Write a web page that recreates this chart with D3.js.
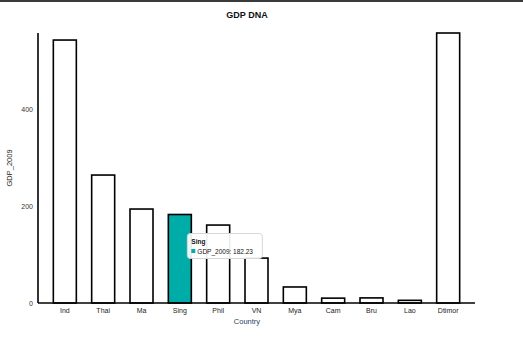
<!DOCTYPE html>
<html>
<head>
<meta charset="utf-8">
<script src="https://cdn.jsdelivr.net/npm/d3@7"></script>
<style>
  html, body { margin: 0; padding: 0; background: #fff; }
  body { width: 523px; height: 349px; overflow: hidden; }
  svg { display: block; font-family: "Liberation Sans", "DejaVu Sans", sans-serif; }
</style>
</head>
<body>
<script>
// GDP 2009 by country
const countries = ["Ind", "Thai", "Ma", "Sing", "Phil", "VN", "Mya", "Cam", "Bru", "Lao", "Dtimor"];
const gdp2009 = [541.5, 263.5, 193.5, 182.23, 160.5, 92.5, 33, 10, 10.5, 5.5, 556];
const yTicks = [0, 200, 400];
const highlighted = "Sing";

const W = 523, H = 349;
const margin = { left: 38, right: 48, top: 33, bottom: 46 };

const svg = d3.select("body").append("svg")
  .attr("width", W).attr("height", H);

// page frame line along the top edge
svg.append("rect").attr("x", 0).attr("y", 0).attr("width", W).attr("height", 2).attr("fill", "#3a3a3a");

const defs = svg.append("defs");
const f = defs.append("filter").attr("id", "xkcdify")
  .attr("filterUnits", "userSpaceOnUse")
  .attr("x", -5).attr("y", -5).attr("width", "100%").attr("height", "100%");
f.append("feTurbulence").attr("type", "fractalNoise").attr("baseFrequency", 0.05).attr("result", "noise");
f.append("feDisplacementMap").attr("scale", 1.6)
  .attr("xChannelSelector", "R").attr("yChannelSelector", "G")
  .attr("in", "SourceGraphic").attr("in2", "noise");

const x = d3.scaleBand()
  .domain(countries)
  .range([margin.left, W - margin.right])
  .padding(0.4);

const y = d3.scaleLinear()
  .domain([0, d3.max(gdp2009)])
  .range([H - margin.bottom, margin.top]);

// title
svg.append("text")
  .attr("x", 247).attr("y", 18)
  .attr("text-anchor", "middle")
  .attr("font-size", 9).attr("font-weight", "bold").attr("fill", "#111")
  .text("GDP DNA");

const g = svg.append("g").attr("filter", "url(#xkcdify)");

// bars
g.selectAll("rect.bar")
  .data(countries.map((c, i) => ({ c, v: gdp2009[i] })))
  .join("rect")
  .attr("class", "bar")
  .attr("x", d => x(d.c))
  .attr("y", d => y(d.v))
  .attr("width", x.bandwidth())
  .attr("height", d => y(0) - y(d.v))
  .attr("fill", d => d.c === highlighted ? "#05aca7" : "#fff")
  .attr("stroke", "#000")
  .attr("stroke-width", 1.6);

// axes
const xAxis = svg.append("g")
  .attr("transform", `translate(0,${y(0)})`)
  .call(d3.axisBottom(x).tickSize(0).tickPadding(5));
xAxis.select(".domain").attr("d", `M${margin.left},0H${W - margin.right}`)
  .attr("stroke", "#000").attr("stroke-width", 1.6).attr("filter", "url(#xkcdify)");
xAxis.selectAll("text").attr("font-size", 7).attr("fill", "#222")
  .attr("font-family", "Liberation Sans, sans-serif");

const yAxis = svg.append("g")
  .attr("transform", `translate(${margin.left},0)`)
  .call(d3.axisLeft(y).tickValues(yTicks).tickSize(0).tickPadding(5));
yAxis.select(".domain").attr("d", `M0,${y.range()[1]}V${y(0)}`)
  .attr("stroke", "#000").attr("stroke-width", 1.6).attr("filter", "url(#xkcdify)");
yAxis.selectAll("text").attr("font-size", 7).attr("fill", "#333")
  .attr("font-family", "Liberation Sans, sans-serif");

// axis titles
svg.append("text")
  .attr("x", 247).attr("y", 324)
  .attr("text-anchor", "middle")
  .attr("font-size", 7.5).attr("fill", "#2b3f66")
  .text("Country");

svg.append("text")
  .attr("transform", `translate(12,${(y.range()[0] + y.range()[1]) / 2}) rotate(-90)`)
  .attr("text-anchor", "middle")
  .attr("font-size", 7.5).attr("fill", "#222")
  .text("GDP_2009");

// tooltip for the highlighted bar
const hv = gdp2009[countries.indexOf(highlighted)];
const tx = x(highlighted) + x.bandwidth() - 4, ty = y(hv) + 19;
const tip = svg.append("g").attr("transform", `translate(${tx},${ty})`);
tip.append("rect")
  .attr("x", 0).attr("y", 0).attr("width", 75).attr("height", 25)
  .attr("rx", 3)
  .attr("fill", "rgba(255,255,255,0.92)")
  .attr("stroke", "#d6d6d6").attr("stroke-width", 1);
tip.append("text")
  .attr("x", 4).attr("y", 10)
  .attr("font-size", 6.5).attr("font-weight", "bold").attr("fill", "#111")
  .text(highlighted);
tip.append("rect")
  .attr("x", 4).attr("y", 15.5).attr("width", 4).attr("height", 4)
  .attr("fill", "#05aca7");
tip.append("text")
  .attr("x", 10).attr("y", 20)
  .attr("font-size", 6.5).attr("fill", "#111")
  .text(`GDP_2009: ${hv}`);
</script>
</body>
</html>
